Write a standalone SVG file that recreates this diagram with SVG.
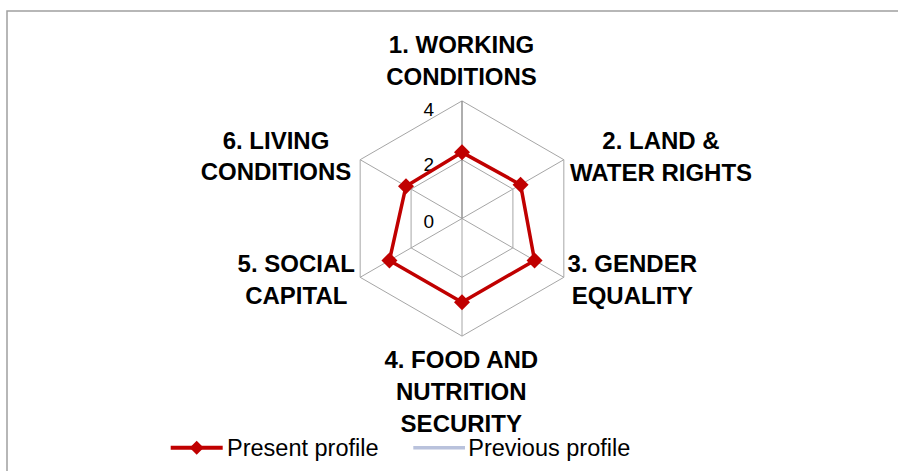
<svg xmlns="http://www.w3.org/2000/svg" width="898" height="471" viewBox="0 0 898 471">
  <defs>
    <style>
      .grid { fill: none; stroke: #a6a6a6; stroke-width: 1; }
      .spoke { stroke: #a6a6a6; stroke-width: 1; }
      .vaxis { stroke: #8c8c8c; stroke-width: 1.4; }
      .cat { font-family: "Liberation Sans", Arial, sans-serif; font-weight: bold; font-size: 24px; fill: #000; text-anchor: middle; }
      .tick { font-family: "Liberation Sans", Arial, sans-serif; font-size: 19px; fill: #000; text-anchor: end; }
      .leg { font-family: "Liberation Sans", Arial, sans-serif; font-size: 23.5px; fill: #000; }
      .series { fill: none; stroke: #c00000; stroke-width: 3.5; stroke-linejoin: round; }
      .mk { fill: #c00000; }
    </style>
    <path id="dia" d="M0,-8 L8,0 L0,8 L-8,0 Z"/>
    <path id="diaS" d="M0,-7 L7,0 L0,7 L-7,0 Z"/>
  </defs>
  <rect width="898" height="471" fill="#ffffff"/>
  <path d="M7,471 V11 H898" fill="none" stroke="#a0a0a0" stroke-width="1.5"/>

  <g id="grid">
    <polygon class="grid" points="462,100.9 563.84,159.7 563.84,277.3 462,336.1 360.16,277.3 360.16,159.7"/>
    <polygon class="grid" points="462,159.7 512.92,189.1 512.92,247.9 462,277.3 411.08,247.9 411.08,189.1"/>
    <line class="spoke" x1="462" y1="218.5" x2="563.84" y2="159.7"/>
    <line class="spoke" x1="462" y1="218.5" x2="563.84" y2="277.3"/>
    <line class="spoke" x1="462" y1="218.5" x2="462" y2="336.1"/>
    <line class="spoke" x1="462" y1="218.5" x2="360.16" y2="277.3"/>
    <line class="spoke" x1="462" y1="218.5" x2="360.16" y2="159.7"/>
    <line class="vaxis" x1="462" y1="218.5" x2="462" y2="100.9"/>
  </g>

  <g id="ticks">
    <text class="tick" x="434" y="116">4</text>
    <text class="tick" x="434" y="171">2</text>
    <text class="tick" x="434" y="228">0</text>
  </g>

  <g id="connectors">
    <polygon class="series" points="462,152.35 520.56,184.69 534.56,260.4 462,302.29 389.44,260.4 405.99,186.16"/>
  </g>

  <g id="markers">
    <use href="#dia" class="mk" x="462" y="152.35"/>
    <use href="#dia" class="mk" x="520.56" y="184.69"/>
    <use href="#dia" class="mk" x="534.56" y="260.4"/>
    <use href="#dia" class="mk" x="462" y="302.29"/>
    <use href="#dia" class="mk" x="389.44" y="260.4"/>
    <use href="#dia" class="mk" x="405.99" y="186.16"/>
  </g>

  <g id="node-1">
    <text class="cat" x="461.5" y="53">1. WORKING</text>
    <text class="cat" x="461.5" y="85">CONDITIONS</text>
  </g>
  <g id="node-2">
    <text class="cat" x="661" y="149">2. LAND &amp;</text>
    <text class="cat" x="661" y="180.5">WATER RIGHTS</text>
  </g>
  <g id="node-3">
    <text class="cat" x="632.3" y="272">3. GENDER</text>
    <text class="cat" x="632.3" y="304">EQUALITY</text>
  </g>
  <g id="node-4">
    <text class="cat" x="461.3" y="368">4. FOOD AND</text>
    <text class="cat" x="461.3" y="400">NUTRITION</text>
    <text class="cat" x="461.3" y="431.5">SECURITY</text>
  </g>
  <g id="node-5">
    <text class="cat" x="296.3" y="272">5. SOCIAL</text>
    <text class="cat" x="296.3" y="304">CAPITAL</text>
  </g>
  <g id="node-6">
    <text class="cat" x="276" y="149">6. LIVING</text>
    <text class="cat" x="276" y="180">CONDITIONS</text>
  </g>

  <g id="legend">
    <line x1="170.7" y1="447.7" x2="222.7" y2="447.7" stroke="#c00000" stroke-width="4"/>
    <use href="#diaS" class="mk" x="196.7" y="447.7"/>
    <text class="leg" x="227" y="455.5">Present profile</text>
    <line x1="413.3" y1="447.7" x2="465" y2="447.7" stroke="#b9c2dc" stroke-width="3.5"/>
    <text class="leg" x="468.3" y="455.5">Previous profile</text>
  </g>
</svg>
